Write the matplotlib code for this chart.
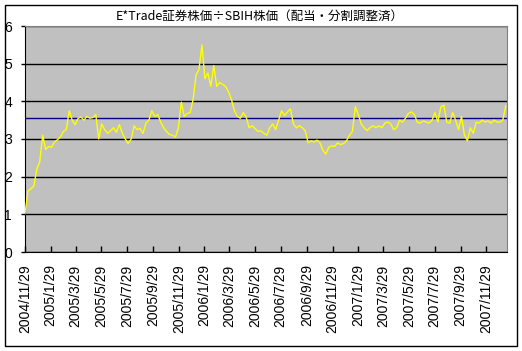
import pandas as pd
import matplotlib.pyplot as plt
from matplotlib.patches import Rectangle

# Ratio values, roughly one per week from 2004/11/29
ratio = [
    1.02, 1.62, 1.68, 1.75, 2.20, 2.40, 3.10, 2.72, 2.80, 2.78,
    2.92, 2.98, 3.05, 3.20, 3.25, 3.75, 3.50, 3.38, 3.55, 3.58,
    3.50, 3.60, 3.55, 3.57, 3.65, 3.00, 3.40, 3.25, 3.15, 3.22,
    3.30, 3.18, 3.38, 3.15, 3.00, 2.88, 3.00, 3.35, 3.25, 3.28,
    3.15, 3.42, 3.50, 3.75, 3.60, 3.65, 3.45, 3.30, 3.20, 3.12,
    3.10, 3.05, 3.30, 3.98, 3.60, 3.68, 3.70, 4.05, 4.70, 4.85,
    5.50, 4.60, 4.75, 4.40, 4.95, 4.40, 4.50, 4.45, 4.40, 4.25,
    4.05, 3.75, 3.60, 3.55, 3.70, 3.58, 3.30, 3.35, 3.28, 3.20,
    3.22, 3.15, 3.10, 3.30, 3.40, 3.25, 3.50, 3.75, 3.62, 3.72,
    3.80, 3.40, 3.30, 3.35, 3.30, 3.22, 2.90, 2.95, 2.92, 2.97,
    2.90, 2.70, 2.60, 2.78, 2.82, 2.80, 2.90, 2.85, 2.88, 2.95,
    3.10, 3.20, 3.86, 3.65, 3.40, 3.30, 3.22, 3.30, 3.35, 3.30,
    3.35, 3.30, 3.42, 3.45, 3.40, 3.25, 3.30, 3.50, 3.45, 3.55,
    3.68, 3.72, 3.65, 3.45, 3.42, 3.48, 3.45, 3.42, 3.50, 3.70,
    3.45, 3.85, 3.90, 3.45, 3.42, 3.70, 3.50, 3.25, 3.60, 3.10,
    2.95, 3.30, 3.15, 3.45, 3.42, 3.50, 3.45, 3.48, 3.42, 3.50,
    3.45, 3.45, 3.50, 3.88,
]
dates = pd.date_range('2004-11-29', periods=len(ratio), freq='7D')
avg_level = 3.55

tick_labels = [
    '2004/11/29', '2005/1/29', '2005/3/29', '2005/5/29', '2005/7/29',
    '2005/9/29', '2005/11/29', '2006/1/29', '2006/3/29', '2006/5/29',
    '2006/7/29', '2006/9/29', '2006/11/29', '2007/1/29', '2007/3/29',
    '2007/5/29', '2007/7/29', '2007/9/29', '2007/11/29',
]
tick_dates = pd.to_datetime(tick_labels, format='%Y/%m/%d')

title = 'E*Trade証券株価÷SBIH株価（配当・分割調整済）'

fig = plt.figure(figsize=(5.22, 3.51), dpi=100)
fig.patches.append(Rectangle((5 / 522, 5 / 351), 512 / 522, 341 / 351,
                             transform=fig.transFigure, fill=False,
                             edgecolor='black', linewidth=1))
ax = fig.add_axes([25 / 522, 99 / 351, 482 / 522, 226 / 351])
ax.set_facecolor('#C0C0C0')

ax.plot(dates, ratio, color='#FFFF00', linewidth=1.0, zorder=3)
ax.axhline(avg_level, color='#000080', linewidth=1, zorder=2)

ax.set_ylim(0, 6)
ax.set_yticks(range(7))
ax.set_xlim(pd.Timestamp('2004-11-29'), pd.Timestamp('2008-01-17'))
ax.set_xticks(tick_dates)
ax.set_xticklabels(tick_labels, rotation=90, fontsize=10, family='Liberation Sans')
for lbl in ax.get_yticklabels():
    lbl.set_family('Liberation Sans')
    lbl.set_fontsize(10)
    lbl.set_horizontalalignment('left')

ax.grid(axis='y', color='black', linewidth=1)
ax.set_axisbelow(True)
ax.tick_params(axis='x', direction='in', length=4, pad=9, width=1)
ax.tick_params(axis='y', direction='out', length=3, pad=12, width=1)

ax.spines['left'].set_color('black')
ax.spines['bottom'].set_color('black')
ax.spines['top'].set_color('#808080')
ax.spines['right'].set_color('#808080')

fig.text(260 / 522, 1 - 16 / 351, title, ha='center', va='center', fontsize=9,
         family=['Noto Sans CJK JP', 'DejaVu Sans'])

fig.savefig('out.png', dpi=100)
